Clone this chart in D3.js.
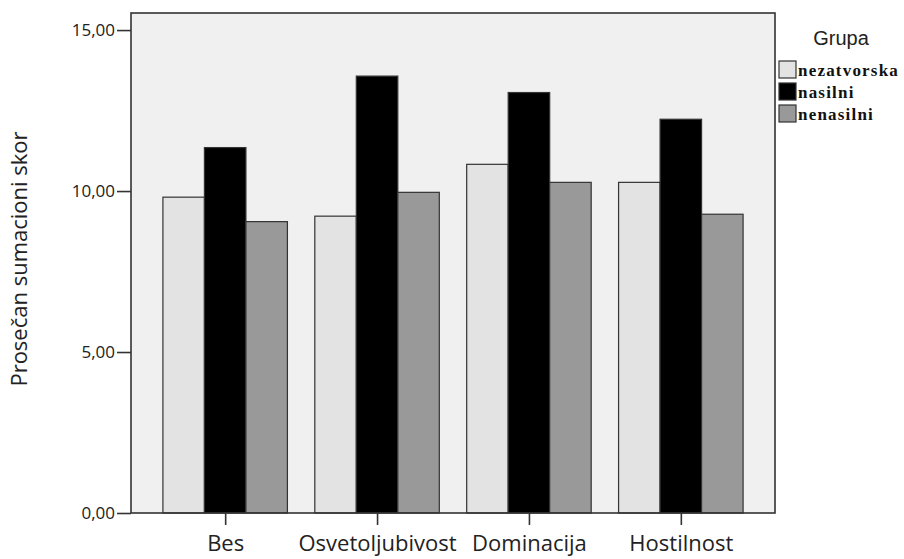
<!DOCTYPE html>
<html lang="sr">
<head>
<meta charset="utf-8">
<title>Prosečan sumacioni skor po grupi</title>
<script src="https://cdn.jsdelivr.net/npm/d3@7"></script>
<style>
  body { margin: 0; background: #fff; }
  svg { display: block; }
</style>
</head>
<body>
<script>
// data
var categories = ["Bes", "Osvetoljubivost", "Dominacija", "Hostilnost"];
var groups = ["nezatvorska", "nasilni", "nenasilni"];
var nezatvorska = [9.81, 9.22, 10.83, 10.27];
var nasilni = [11.35, 13.57, 13.06, 12.23];
var nenasilni = [9.05, 9.96, 10.27, 9.28];
var yTicks = [0, 5, 10, 15];

var series = [nezatvorska, nasilni, nenasilni];
var colors = {nezatvorska: "#e3e3e3", nasilni: "#000000", nenasilni: "#999999"};

var W = 904, H = 559;
var pl = 131, pr = 775, pt = 13, pb = 513;

var svg = d3.select("body").append("svg").attr("width", W).attr("height", H);

var y = d3.scaleLinear().domain([0, 15.53]).range([pb, pt]);
var x = d3.scalePoint().domain(categories).range([pl, pr]).padding(0.62);
var bw = 41.5;
var xs = d3.scaleBand().domain(groups).range([-bw * 1.5, bw * 1.5]);

// plot background
svg.append("rect").attr("x", pl).attr("y", pt)
  .attr("width", pr - pl).attr("height", pb - pt)
  .attr("fill", "#f0f0f0");

// bars
var rows = [];
categories.forEach(function(c, i) {
  groups.forEach(function(g, j) {
    rows.push({cat: c, grp: g, val: series[j][i]});
  });
});

svg.append("g").selectAll("rect").data(rows).enter().append("rect")
  .attr("x", function(d) { return x(d.cat) + xs(d.grp); })
  .attr("width", xs.bandwidth())
  .attr("y", function(d) { return y(d.val); })
  .attr("height", function(d) { return pb - y(d.val); })
  .attr("fill", function(d) { return colors[d.grp]; })
  .attr("stroke", "#333")
  .attr("stroke-width", 1.2);

// frame
svg.append("rect").attr("x", pl).attr("y", pt)
  .attr("width", pr - pl).attr("height", pb - pt)
  .attr("fill", "none").attr("stroke", "#333").attr("stroke-width", 1.6);

// y axis
var fmt = function(d) { return d3.format(".2f")(d).replace(".", ","); };
var ya = svg.append("g").attr("transform", "translate(" + pl + ",0)")
  .call(d3.axisLeft(y).tickValues(yTicks).tickFormat(fmt).tickSize(14).tickPadding(2));
ya.select(".domain").remove();
ya.selectAll("line").attr("stroke", "#333").attr("stroke-width", 1.6);
ya.selectAll("text").attr("font-family", "'Open Sans', sans-serif").attr("font-size", 17).attr("fill", "#222");

// x axis
var xa = svg.append("g").attr("transform", "translate(0," + pb + ")")
  .call(d3.axisBottom(x).tickSize(12).tickPadding(10));
xa.select(".domain").remove();
xa.selectAll("line").attr("stroke", "#333").attr("stroke-width", 1.6);
xa.selectAll("text").attr("font-family", "'Open Sans', sans-serif").attr("font-size", 22).attr("fill", "#222");

// y title
svg.append("text")
  .attr("transform", "translate(27,259) rotate(-90)")
  .attr("text-anchor", "middle")
  .attr("font-family", "'Open Sans', sans-serif").attr("font-size", 22).attr("fill", "#222")
  .text("Prosečan sumacioni skor");

// legend
var lg = svg.append("g");
lg.append("text").attr("x", 841).attr("y", 45).attr("text-anchor", "middle")
  .attr("font-family", "'Liberation Sans', Arial, sans-serif").attr("font-size", 20).attr("fill", "#222")
  .text("Grupa");
var li = lg.selectAll("g.item").data(groups).enter().append("g").attr("class", "item")
  .attr("transform", function(d, i) { return "translate(779," + (61 + i * 22) + ")"; });
li.append("rect").attr("width", 17).attr("height", 17)
  .attr("fill", function(d) { return colors[d]; })
  .attr("stroke", "#333").attr("stroke-width", 1.2);
li.append("text").attr("x", 19).attr("y", 15)
  .attr("font-family", "'Liberation Serif', 'DejaVu Serif', serif").attr("font-size", 17)
  .attr("font-weight", "bold").attr("letter-spacing", 1.2).attr("fill", "#111")
  .text(function(d) { return d; });
</script>
</body>
</html>
